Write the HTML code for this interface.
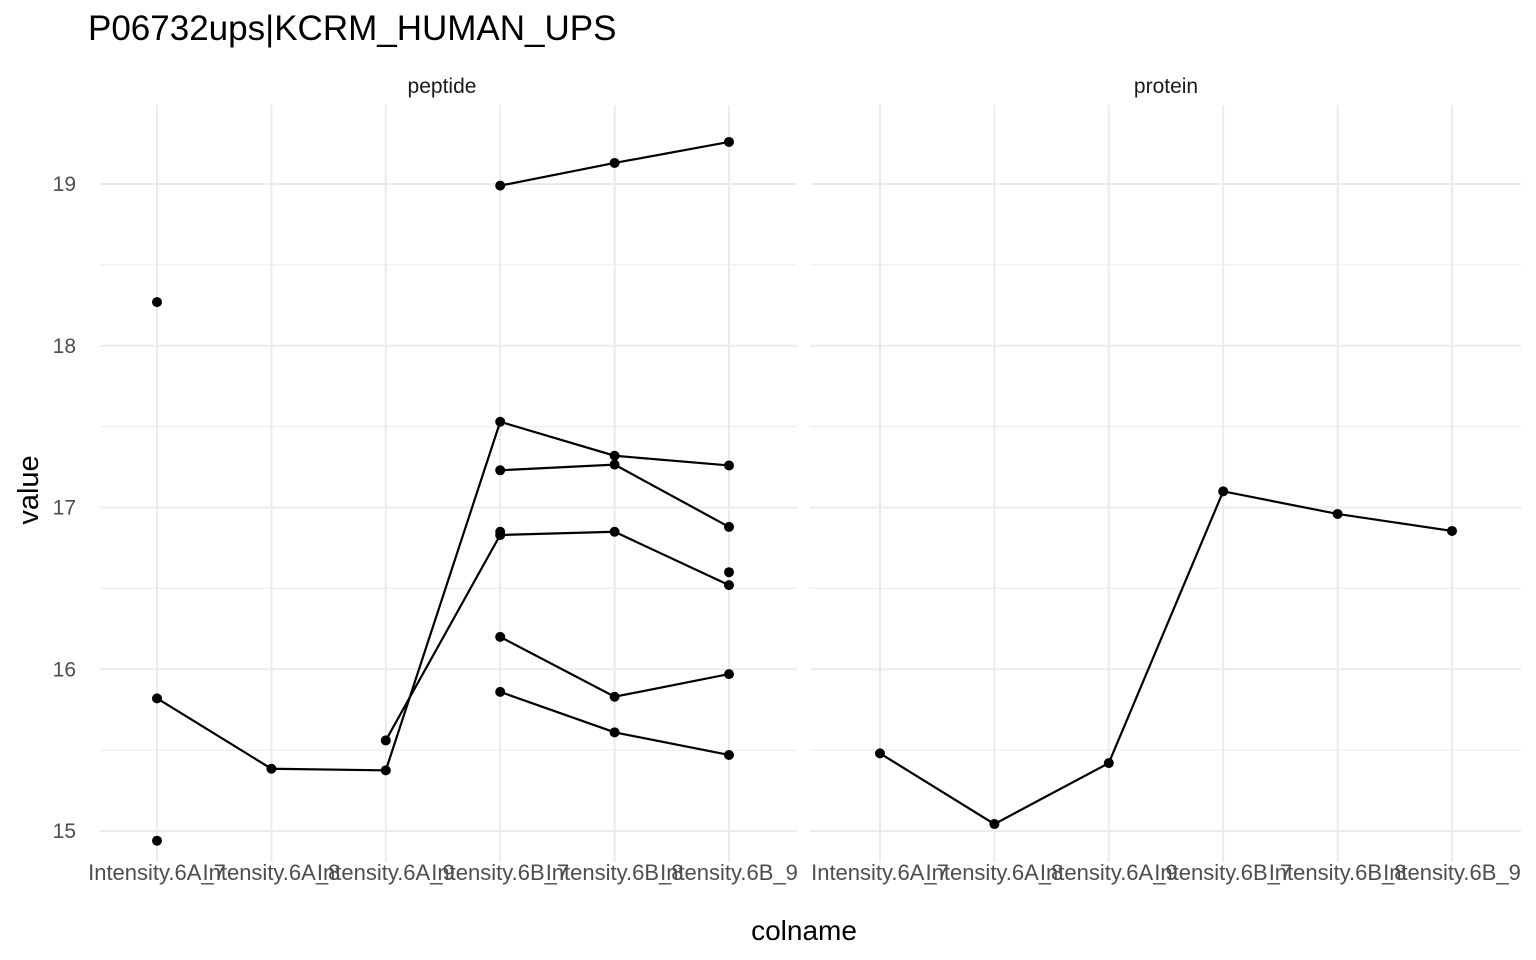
<!DOCTYPE html>
<html><head><meta charset="utf-8"><style>
body{margin:0;background:#fff}
svg{display:block;font-family:"Liberation Sans",Arial,sans-serif}
</style></head><body>
<svg id="chart" width="1536" height="960">
<text x="88" y="40" font-size="35" fill="#000">P06732ups|KCRM_HUMAN_UPS</text>
<text x="442" y="93" font-size="21" text-anchor="middle" fill="#1a1a1a">peptide</text>
<text x="1166" y="93" font-size="21" text-anchor="middle" fill="#1a1a1a">protein</text>
<text x="804" y="940" font-size="28" text-anchor="middle" fill="#000">colname</text>
<text transform="translate(38,490) rotate(-90)" font-size="29" text-anchor="middle" fill="#000">value</text>
<g id="grid"></g><g id="marks"></g><g id="labels"></g>
</svg>
<script>
const categories=["Intensity.6A_7","Intensity.6A_8","Intensity.6A_9","Intensity.6B_7","Intensity.6B_8","Intensity.6B_9"];
const yTicks=[15,16,17,18,19];
const pep1=[null,null,null,18.99,19.13,19.26];
const pep2=[15.82,15.385,15.375,17.53,17.32,17.26];
const pep3=[null,null,15.56,16.83,16.85,16.52];
const pep4=[null,null,null,17.23,17.265,16.88];
const pep5=[null,null,null,16.20,15.83,15.97];
const pep6=[null,null,null,15.86,15.61,15.47];
const pep7=[18.27,null,null,16.85,null,16.60];
const pep8=[14.94,null,null,null,null,null];
const protein=[15.48,15.043,15.42,17.10,16.96,16.855];
const peptideSeries=[pep1,pep2,pep3,pep4,pep5,pep6];
const peptidePoints=[pep7,pep8];
const NS="http://www.w3.org/2000/svg";
const panels=[{x0:100,x1:797,c0:157,step:114.4},{x0:810,x1:1521,c0:880,step:114.4}];
const yTop=105,yBot=862;
function yS(v){return 184+(19-v)*161.75;}
function xS(p,i){return panels[p].c0+i*panels[p].step;}
function el(t,a,parent){const e=document.createElementNS(NS,t);for(const k in a)e.setAttribute(k,a[k]);document.getElementById(parent).appendChild(e);return e;}
panels.forEach((P,p)=>{
  for(let v=14.5;v<=19.5;v+=0.5){const y=yS(v);if(y<yTop||y>yBot)continue;
    const g=el('line',{x1:P.x0,x2:P.x1,y1:y,y2:y,stroke:'#ebebeb','stroke-width':Number.isInteger(v)?2:1},'grid');
    
    }
  categories.forEach((c,i)=>{
    const g=el('line',{x1:xS(p,i),x2:xS(p,i),y1:yTop,y2:yBot,stroke:'#ebebeb','stroke-width':2},'grid');
    
    
    const t=el('text',{x:xS(p,i),y:880,'font-size':22,'text-anchor':'middle',fill:'#4d4d4d'},'labels');
    t.textContent=c;
    
    
  });
});
yTicks.forEach(v=>{
  const t=el('text',{x:76,y:yS(v)+7,'font-size':21,'text-anchor':'end',fill:'#4d4d4d'},'labels');
  t.textContent=v;
  
  
});
function drawSeries(arr,p,withLine){
  if(withLine){let seg=[];
    arr.forEach((v,i)=>{if(v!=null)seg.push(xS(p,i)+','+yS(v));});
    const l=el('polyline',{points:seg.join(' '),fill:'none',stroke:'#000','stroke-width':2.2},'marks');
    
    }
  arr.forEach((v,i)=>{if(v==null)return;
    const c=el('circle',{cx:xS(p,i),cy:yS(v),r:5,fill:'#000'},'marks');
    
    });
}
peptideSeries.forEach(s=>drawSeries(s,0,true));
peptidePoints.forEach(s=>drawSeries(s,0,false));
drawSeries(protein,1,true);
</script>
</body></html>
